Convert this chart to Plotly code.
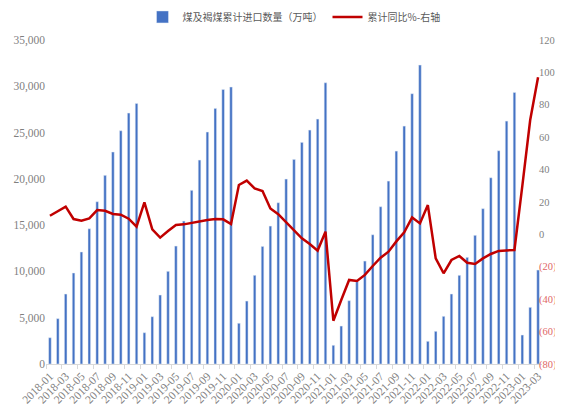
import plotly.graph_objects as go

months = [f"{y}-{m:02d}" for y in range(2018, 2023) for m in range(1, 13)] + ["2023-01", "2023-02", "2023-03"]

# 煤及褐煤累计进口数量（万吨）
imports = [
    2840, 4900, 7560, 9830, 12100, 14610, 17530, 20380, 22900, 25200, 27110, 28150,
    3380, 5110, 7450, 10010, 12740, 15440, 18760, 22030, 25060, 27610, 29660, 29920,
    4400, 6800, 9580, 12700, 14900, 17420, 19980, 22100, 23940, 25270, 26460, 30380,
    2020, 4100, 6840, 8890, 11120, 13960, 16990, 19760, 23000, 25700, 29200, 32290,
    2450, 3530, 5150, 7560, 9580, 11520, 13900, 16780, 20120, 23040, 26240, 29340,
    3130, 6120, 10150,
]

# 累计同比%
yoy = [
    11.5, 14.4, 17.1, 9.5, 8.5, 9.9, 15.0, 14.6, 12.6, 12.2, 9.7, 4.8,
    19.8, 3.1, -2.0, 2.1, 5.8, 6.2, 7.2, 7.8, 8.9, 9.5, 9.3, 6.4,
    30.5, 33.2, 28.4, 26.8, 16.0, 12.5, 7.5, 2.1, -2.4, -5.9, -10.0, 1.7,
    -53.3, -40.5, -28.1, -28.8, -25.0, -19.5, -14.4, -10.7, -4.3, 1.3, 10.5, 6.8,
    18.1, -14.8, -24.0, -15.8, -13.3, -17.5, -18.3, -14.8, -12.1, -10.2, -10.0, -9.6,
    30.0, 70.6, 97.0,
]

right_vals = [120, 100, 80, 60, 40, 20, 0, -20, -40, -60, -80]
right_text = [str(v) if v >= 0 else f"<span style='color:#E06666'>({-v})</span>" for v in right_vals]

tick_font = dict(family="Liberation Serif", size=11.5, color="#7F7F7F")

fig = go.Figure()
fig.add_trace(go.Bar(
    x=months, y=imports, name="煤及褐煤累计进口数量（万吨）",
    marker_color="#4472C4", width=0.33,
))
fig.add_trace(go.Scatter(
    x=months, y=yoy, name="累计同比%-右轴", yaxis="y2",
    mode="lines", line=dict(color="#C00000", width=2.5),
))

# page body has an 8px margin, so the figure is 8px smaller and shifted
fig.update_layout(
    width=555, height=406,
    margin=dict(l=38, r=21, t=32, b=50),
    plot_bgcolor="white", paper_bgcolor="white",
    font=dict(family="Noto Sans CJK SC", size=10, color="#7F7F7F"),
    legend=dict(orientation="h", x=0.5, xanchor="center", y=0.978, yanchor="middle",
                yref="container", font=dict(size=10, color="#595959")),
    xaxis=dict(
        type="category", tickangle=-45, dtick=2, showgrid=False, automargin=False,
        showline=True, linecolor="#D9D9D9", ticks="outside", tickcolor="#D9D9D9",
        ticklen=4, tickson="boundaries", tickfont=tick_font,
    ),
    yaxis=dict(
        range=[0, 35000], dtick=5000, tickformat=",", showgrid=False, automargin=False,
        zeroline=False, showline=False, tickfont=tick_font,
    ),
    yaxis2=dict(
        overlaying="y", side="right", range=[-80, 120], automargin=False,
        tickvals=right_vals, ticktext=right_text, showgrid=False, zeroline=False,
        tickfont=dict(family="Liberation Serif", size=10.5, color="#7F7F7F"),
        ticklabelstandoff=-4,
    ),
)

fig.write_html("out.html")
